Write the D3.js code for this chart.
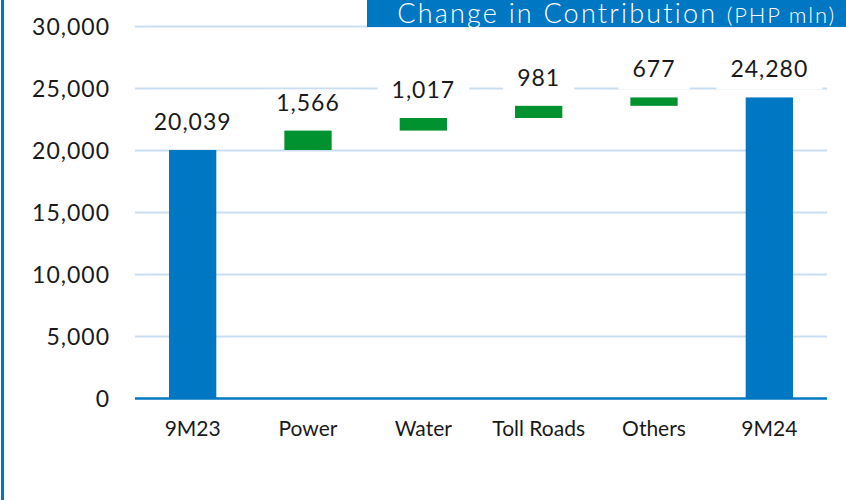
<!DOCTYPE html>
<html>
<head>
<meta charset="utf-8">
<script src="https://cdn.jsdelivr.net/npm/d3@7"></script>
<style>
  body { margin: 0; background: #fff; }
  svg { display: block; font-family: Lato, "Open Sans", sans-serif; }
</style>
</head>
<body>
<div id="chart"></div>
<script>
// chart data
const categories = ["9M23", "Power", "Water", "Toll Roads", "Others", "9M24"];
const values = [20039, 1566, 1017, 981, 677, 24280];
const kinds = ["total", "change", "change", "change", "change", "total"];
const yTicks = [0, 5000, 10000, 15000, 20000, 25000, 30000];
const titleMain = "Change in Contribution";
const titleUnit = "(PHP mln)";

const W = 846, H = 500;
const blue = "#0077c2", green = "#00922f", grid = "#c9dff1";

// build waterfall segments
let running = 0;
const data = categories.map((c, i) => {
  let start, end;
  if (kinds[i] === "total") { start = 0; end = values[i]; running = values[i]; }
  else { start = running; end = running + values[i]; running = end; }
  return { label: c, value: values[i], kind: kinds[i], start, end };
});

const svg = d3.select("#chart").append("svg")
  .attr("width", W).attr("height", H);

const x = d3.scaleBand()
  .domain(categories)
  .range([135, 827])
  .paddingInner(0.59)
  .paddingOuter(0.295);

const y = d3.scaleLinear()
  .domain([0, 30000])
  .range([398.5, 26.5]);

// left frame line
svg.append("line")
  .attr("x1", 2.5).attr("x2", 2.5).attr("y1", 0).attr("y2", H)
  .attr("stroke", blue).attr("stroke-width", 3);

// gridlines
svg.append("g").selectAll("line")
  .data(yTicks.filter(d => d > 0))
  .enter().append("line")
  .attr("x1", 135).attr("x2", 827)
  .attr("y1", d => y(d)).attr("y2", d => y(d))
  .attr("stroke", grid).attr("stroke-width", 2);

// y axis labels
const yAxis = svg.append("g")
  .attr("transform", "translate(110,0)")
  .call(d3.axisLeft(y).tickValues(yTicks).tickSize(0).tickPadding(0)
    .tickFormat(d3.format(",")));
yAxis.select(".domain").remove();
yAxis.selectAll("text")
  .attr("dy", "0.35em")
  .style("font-size", "23px")
  .style("letter-spacing", "1px")
  .style("font-family", "Lato, sans-serif")
  .attr("fill", "#1a1a1a");

// bars
svg.append("g").selectAll("rect")
  .data(data)
  .enter().append("rect")
  .attr("x", d => x(d.label))
  .attr("width", x.bandwidth())
  .attr("y", d => y(d.end))
  .attr("height", d => y(d.start) - y(d.end))
  .attr("fill", d => d.kind === "total" ? blue : green);

// zero axis line
svg.append("line")
  .attr("x1", 135).attr("x2", 827)
  .attr("y1", y(0)).attr("y2", y(0))
  .attr("stroke", blue).attr("stroke-width", 2.5);

// x axis labels
const xAxis = svg.append("g")
  .attr("transform", `translate(0, ${y(0)})`)
  .call(d3.axisBottom(x).tickSize(0).tickPadding(0));
xAxis.select(".domain").remove();
xAxis.selectAll("text")
  .attr("y", 37).attr("dy", 0)
  .style("font-size", "21px")
  .style("font-family", "Lato, sans-serif")
  .attr("fill", "#1a1a1a");

// value labels with white boxes
const lbl = svg.append("g").selectAll("g")
  .data(data)
  .enter().append("g")
  .attr("transform", d => `translate(${x(d.label) + x.bandwidth() / 2}, ${y(d.end) - 20})`);
lbl.append("text")
  .attr("text-anchor", "middle")
  .style("font-size", "23px")
  .style("letter-spacing", "1px")
  .attr("fill", "#1a1a1a")
  .text(d => d3.format(",")(d.value));
lbl.each(function() {
  const g = d3.select(this);
  const bb = g.select("text").node().getBBox();
  g.insert("rect", "text")
    .attr("x", bb.x - 14).attr("width", bb.width + 28)
    .attr("y", -21).attr("height", 33)
    .attr("fill", "#fff");
});

// title box
svg.append("rect")
  .attr("x", 367).attr("y", 0).attr("width", W - 367).attr("height", 27)
  .attr("fill", blue);
const title = svg.append("text")
  .attr("x", 836).attr("y", 22.5)
  .attr("text-anchor", "end")
  .attr("fill", "#fff")
  .style("font-weight", 300);
title.append("tspan").style("font-size", "27px").style("letter-spacing", "2.2px")
  .text(titleMain + " ");
title.append("tspan").style("font-size", "22px").style("letter-spacing", "1.8px")
  .text(titleUnit);
</script>
</body>
</html>
